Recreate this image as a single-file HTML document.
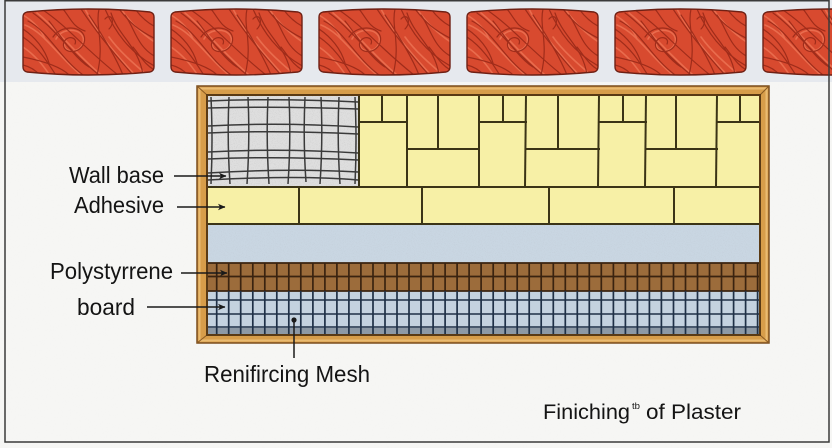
<!DOCTYPE html>
<html>
<head>
<meta charset="utf-8">
<style>
  html,body{margin:0;padding:0;background:#f6f6f4;}
  body{width:832px;height:448px;overflow:hidden;}
  svg{display:block;}
  text{font-family:"Liberation Sans", sans-serif;fill:#141414;}
</style>
</head>
<body>
<svg width="832" height="448" viewBox="0 0 832 448" xmlns="http://www.w3.org/2000/svg">
  <defs>
    <filter id="speck" x="0" y="0" width="100%" height="100%">
      <feTurbulence type="fractalNoise" baseFrequency="1.1" numOctaves="1" seed="4"/>
      <feColorMatrix type="matrix" values="0 0 0 0 0.3  0 0 0 0 0.3  0 0 0 0 0.3  1.8 0 0 0 -0.9"/>
    </filter>
    <filter id="paper" x="0" y="0" width="100%" height="100%">
      <feTurbulence type="fractalNoise" baseFrequency="0.6" numOctaves="2" seed="9"/>
      <feColorMatrix type="matrix" values="0 0 0 0 0.6  0 0 0 0 0.6  0 0 0 0 0.6  1 0 0 0 -0.45"/>
    </filter>
    <clipPath id="brickClip">
      <path d="M4,5 Q65,-1 127,5 Q131,6 131,10 L131,60 Q131,64 127,65 Q65,71 4,65 Q0,64 0,60 L0,10 Q0,6 4,5 Z"/>
    </clipPath>
    <g id="brick">
      <path d="M4,5 Q65,-1 127,5 Q131,6 131,10 L131,60 Q131,64 127,65 Q65,71 4,65 Q0,64 0,60 L0,10 Q0,6 4,5 Z" fill="#d84a2f"/>
      <g clip-path="url(#brickClip)" fill="none" stroke-linecap="round">
        <g stroke="#ee7556" stroke-width="1.6" opacity="0.8">
          <path d="M2,18 C22,26 34,48 58,68"/>
          <path d="M14,6 C32,20 48,42 78,68"/>
          <path d="M62,2 C72,22 88,42 112,68"/>
          <path d="M98,2 C108,16 118,26 133,36"/>
          <path d="M33,32 C40,18 64,22 60,36 C56,48 38,45 42,35"/>
          <path d="M0,40 C12,48 20,58 28,70"/>
          <path d="M86,30 C96,44 110,56 124,68"/>
          <path d="M0,8 C10,14 18,22 22,32"/>
        </g>
        <g stroke="#9a2a19" stroke-width="1.2" opacity="0.9">
          <path d="M5,14 C25,24 36,50 60,68"/>
          <path d="M10,6 C30,20 46,44 76,68"/>
          <path d="M0,30 C15,40 24,54 34,70"/>
          <path d="M20,3 C45,20 60,40 95,68"/>
          <path d="M58,2 C70,20 85,40 110,68"/>
          <path d="M82,2 C92,25 106,45 133,60"/>
          <path d="M96,2 C106,15 116,24 133,32"/>
          <path d="M76,2 C72,20 82,36 74,68"/>
          <path d="M102,8 C112,22 114,40 133,50"/>
          <path d="M30,30 C40,15 66,20 61,36 C56,49 37,46 41,35 C44,28 55,30 52,37"/>
          <path d="M82,12 C88,5 93,15 86,22"/>
          <path d="M40,2 C48,12 50,20 62,24"/>
          <path d="M0,50 C20,54 40,60 48,70"/>
          <path d="M110,40 C118,50 122,58 133,64"/>
          <path d="M0,22 C12,30 22,42 26,56"/>
          <path d="M26,14 C36,26 50,50 66,60"/>
          <path d="M66,8 C78,26 92,48 100,68"/>
          <path d="M88,6 C96,30 116,40 120,68"/>
          <path d="M112,2 C118,10 124,16 133,20"/>
          <path d="M0,58 C8,60 14,64 18,70"/>
        </g>
      </g>
      <path d="M4,5 Q65,-1 127,5 Q131,6 131,10 L131,60 Q131,64 127,65 Q65,71 4,65 Q0,64 0,60 L0,10 Q0,6 4,5 Z" fill="none" stroke="#6e2014" stroke-width="1.4"/>
    </g>
    <marker id="ah" markerWidth="8" markerHeight="8" refX="7" refY="4" orient="auto" markerUnits="userSpaceOnUse">
      <path d="M0,0.8 L7.5,4 L0,7.2 L2,4 Z" fill="#1a1a1a"/>
    </marker>
  </defs>

  <!-- background -->
  <rect x="0" y="0" width="832" height="448" fill="#f6f6f4"/>
  <rect x="0" y="0" width="832" height="448" filter="url(#paper)" opacity="0.06"/>
  <rect x="0" y="0" width="832" height="82" fill="#e6e9ee"/>

  <!-- bricks -->
  <use href="#brick" x="23" y="7"/>
  <use href="#brick" x="171" y="7"/>
  <use href="#brick" x="319" y="7"/>
  <use href="#brick" x="467" y="7"/>
  <use href="#brick" x="615" y="7"/>
  <use href="#brick" x="763" y="7"/>

  <!-- frame -->
  <rect x="197" y="86" width="572" height="257" fill="#d79d4a" stroke="#7a4d1c" stroke-width="1.5"/>
  <rect x="199.5" y="88.5" width="567" height="252" fill="none" stroke="#efc37a" stroke-width="2" opacity="0.8"/>
  <line x1="197" y1="86" x2="207" y2="95" stroke="#8a5a22" stroke-width="1"/>
  <line x1="769" y1="86" x2="760" y2="95" stroke="#8a5a22" stroke-width="1"/>
  <line x1="197" y1="343" x2="207" y2="335" stroke="#8a5a22" stroke-width="1"/>
  <line x1="769" y1="343" x2="760" y2="335" stroke="#8a5a22" stroke-width="1"/>

  <!-- layers -->
  <rect x="207" y="95" width="553" height="92" fill="#f7f0a6"/>
  <rect x="207" y="187" width="553" height="37" fill="#f7f0a6"/>
  <rect x="207" y="224" width="553" height="39" fill="#c9d6e2"/>
  <rect x="207" y="224" width="553" height="39" filter="url(#speck)" opacity="0.18"/>
  <rect x="207" y="263" width="553" height="28" fill="#9c6c3b"/>
  <rect x="207" y="291" width="553" height="44" fill="#c4d2df"/>
  <rect x="207" y="328" width="553" height="7" fill="#8d99a5"/>

  <!-- wall base mesh -->
  <rect x="207" y="95" width="152" height="91" fill="#dedede"/>
  <rect x="207" y="95" width="152" height="91" filter="url(#speck)" opacity="0.35"/>
  <g fill="none" stroke="#3a3a3a" stroke-width="1.5">
    <path d="M211,97 Q213,140 211,184"/>
    <path d="M229,97 Q227,140 230,184"/>
    <path d="M248,97 Q250,140 247,184"/>
    <path d="M268,97 Q266,140 269,184"/>
    <path d="M289,97 Q291,140 288,184"/>
    <path d="M305,97 Q303,140 306,182"/>
    <path d="M321,97 Q323,140 320,184"/>
    <path d="M339,97 Q337,140 340,184"/>
    <path d="M355,97 Q357,140 355,184"/>
    <path d="M208,101 Q280,98 358,102"/>
    <path d="M208,108 Q280,106 358,109"/>
    <path d="M208,126 Q280,122 358,127"/>
    <path d="M208,133 Q280,130 358,134"/>
    <path d="M208,152 Q280,148 358,153"/>
    <path d="M208,159 Q280,156 358,160"/>
    <path d="M208,173 Q290,168 358,172"/>
    <path d="M208,180 Q300,175 358,180"/>
  </g>

  <!-- tile lines top section -->
  <g stroke="#3b3416" stroke-width="2" fill="none" stroke-linecap="square">
    <line x1="359" y1="95" x2="359" y2="187"/>
    <line x1="382" y1="95" x2="382" y2="122"/>
    <line x1="407" y1="95" x2="407" y2="187"/>
    <line x1="438" y1="95" x2="438" y2="149"/>
    <line x1="479" y1="95" x2="479" y2="187"/>
    <line x1="503" y1="95" x2="503" y2="122"/>
    <line x1="526" y1="95" x2="525" y2="187"/>
    <line x1="558" y1="95" x2="558" y2="149"/>
    <line x1="599" y1="95" x2="598" y2="187"/>
    <line x1="623" y1="95" x2="623" y2="122"/>
    <line x1="646" y1="95" x2="645" y2="187"/>
    <line x1="676" y1="95" x2="676" y2="149"/>
    <line x1="717" y1="95" x2="716" y2="187"/>
    <line x1="740" y1="95" x2="740" y2="122"/>
    <line x1="359" y1="122" x2="407" y2="122"/>
    <line x1="407" y1="149" x2="479" y2="149"/>
    <line x1="479" y1="122" x2="526" y2="122"/>
    <line x1="526" y1="149" x2="599" y2="149"/>
    <line x1="599" y1="122" x2="646" y2="122"/>
    <line x1="646" y1="149" x2="717" y2="149"/>
    <line x1="717" y1="122" x2="760" y2="122"/>
    <line x1="207" y1="187" x2="760" y2="187"/>
    <line x1="207" y1="224" x2="760" y2="224"/>
    <line x1="299" y1="187" x2="299" y2="224"/>
    <line x1="422" y1="187" x2="422" y2="224"/>
    <line x1="549" y1="187" x2="549" y2="224"/>
    <line x1="674" y1="187" x2="674" y2="224"/>
  </g>

  <!-- brown grid -->
  <g stroke="#3a2310" stroke-width="1.8">
    <line x1="207" y1="263" x2="760" y2="263"/>
    <line x1="207" y1="276.5" x2="760" y2="276.5"/>
    <line x1="207" y1="291" x2="760" y2="291"/>
  </g>
  <!-- blue grid horizontals -->
  <g stroke="#1f3046" stroke-width="1.6">
    <line x1="207" y1="300" x2="760" y2="300"/>
    <line x1="207" y1="314" x2="760" y2="314"/>
    <line x1="207" y1="327" x2="760" y2="327"/>
  </g>
  <!-- verticals -->
  <g stroke-width="1.7">
    <g stroke="#3a2310">
      <path d="M216.7,263V291M228.7,263V291M240.7,263V291M252.8,263V291M264.8,263V291M276.8,263V291M288.8,263V291M300.8,263V291M312.9,263V291M324.9,263V291M336.9,263V291M348.9,263V291M360.9,263V291M373,263V291M385,263V291M397,263V291M409,263V291M421,263V291M433.1,263V291M445.1,263V291M457.1,263V291M469.1,263V291M481.1,263V291M493.2,263V291M505.2,263V291M517.2,263V291M529.2,263V291M541.2,263V291M553.3,263V291M565.3,263V291M577.3,263V291M589.3,263V291M601.3,263V291M613.4,263V291M625.4,263V291M637.4,263V291M649.4,263V291M661.4,263V291M673.5,263V291M685.5,263V291M697.5,263V291M709.5,263V291M721.5,263V291M733.6,263V291M745.6,263V291M757.6,263V291"/>
    </g>
    <g stroke="#1f3046">
      <path d="M216.7,291V335M228.7,291V335M240.7,291V335M252.8,291V335M264.8,291V335M276.8,291V335M288.8,291V335M300.8,291V335M312.9,291V335M324.9,291V335M336.9,291V335M348.9,291V335M360.9,291V335M373,291V335M385,291V335M397,291V335M409,291V335M421,291V335M433.1,291V335M445.1,291V335M457.1,291V335M469.1,291V335M481.1,291V335M493.2,291V335M505.2,291V335M517.2,291V335M529.2,291V335M541.2,291V335M553.3,291V335M565.3,291V335M577.3,291V335M589.3,291V335M601.3,291V335M613.4,291V335M625.4,291V335M637.4,291V335M649.4,291V335M661.4,291V335M673.5,291V335M685.5,291V335M697.5,291V335M709.5,291V335M721.5,291V335M733.6,291V335M745.6,291V335M757.6,291V335"/>
    </g>
  </g>

  <!-- inner frame edge -->
  <rect x="207" y="95" width="553" height="240" fill="none" stroke="#5a3a14" stroke-width="2"/>

  <!-- labels -->
  <text x="69" y="183" font-size="23" textLength="95" lengthAdjust="spacingAndGlyphs">Wall base</text>
  <text x="74" y="213" font-size="23" textLength="90" lengthAdjust="spacingAndGlyphs">Adhesive</text>
  <text x="50" y="279" font-size="23" textLength="123" lengthAdjust="spacingAndGlyphs">Polystyrrene</text>
  <text x="77" y="315" font-size="23" textLength="58" lengthAdjust="spacingAndGlyphs">board</text>
  <text x="204" y="382" font-size="23" textLength="166" lengthAdjust="spacingAndGlyphs">Renifircing Mesh</text>
  <text x="543" y="419" font-size="21" textLength="87" lengthAdjust="spacingAndGlyphs">Finiching</text>
  <text x="632" y="409" font-size="9" textLength="8" lengthAdjust="spacingAndGlyphs">tb</text>
  <text x="646" y="419" font-size="21" textLength="95" lengthAdjust="spacingAndGlyphs">of Plaster</text>

  <!-- arrows -->
  <g stroke="#1a1a1a" stroke-width="1.5" fill="none">
    <line x1="174" y1="176" x2="226" y2="176" marker-end="url(#ah)"/>
    <line x1="177" y1="207" x2="225" y2="207" marker-end="url(#ah)"/>
    <line x1="181" y1="273" x2="227" y2="273" marker-end="url(#ah)"/>
    <line x1="147" y1="307" x2="225" y2="307" marker-end="url(#ah)"/>
    <line x1="294" y1="320" x2="294" y2="358"/>
  </g>
  <circle cx="294" cy="320" r="2.6" fill="#1a1a1a"/>

  <!-- outer border -->
  <path d="M5,0.8 H829 M5,0 V442 H829 V0" fill="none" stroke="#3a3a3a" stroke-width="1.5"/>
</svg>
</body>
</html>
